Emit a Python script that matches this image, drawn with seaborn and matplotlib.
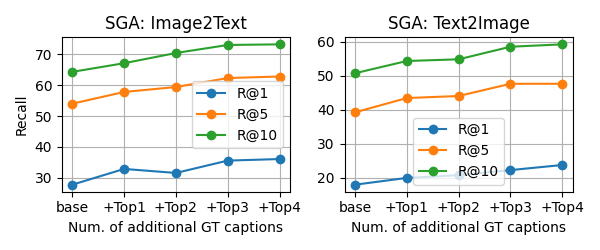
import pandas as pd
import seaborn as sns
import matplotlib.pyplot as plt

steps = ["base", "+Top1", "+Top2", "+Top3", "+Top4"]

# Image2Text recall
i2t_r1 = [27.8, 32.9, 31.6, 35.6, 36.1]
i2t_r5 = [54.0, 57.8, 59.4, 62.3, 62.8]
i2t_r10 = [64.3, 67.1, 70.4, 73.0, 73.2]

# Text2Image recall
t2i_r1 = [18.0, 20.0, 20.8, 22.3, 23.8]
t2i_r5 = [39.3, 43.5, 44.1, 47.7, 47.7]
t2i_r10 = [50.8, 54.4, 54.9, 58.6, 59.3]

colors = ["#1f77b4", "#ff7f0e", "#2ca02c"]
names = ["R@1", "R@5", "R@10"]

fig, axes = plt.subplots(1, 2, figsize=(6, 2.5), dpi=100)

panels = [
    ("SGA: Image2Text", [i2t_r1, i2t_r5, i2t_r10]),
    ("SGA: Text2Image", [t2i_r1, t2i_r5, t2i_r10]),
]

for ax, (title, series) in zip(axes, panels):
    for vals, name, c in zip(series, names, colors):
        df = pd.DataFrame({"step": steps, "recall": vals})
        sns.lineplot(data=df, x="step", y="recall", ax=ax, color=c, marker="o",
                     markersize=6, markeredgecolor=c, markeredgewidth=1,
                     linewidth=1.5, label=name, sort=False)
    ax.set_title(title)
    ax.set_xlabel("Num. of additional GT captions")
    ax.set_ylabel("")
    ax.grid(True)
    ax.legend(loc="best")

axes[0].set_ylabel("Recall")

plt.tight_layout()
plt.savefig("out.png")
